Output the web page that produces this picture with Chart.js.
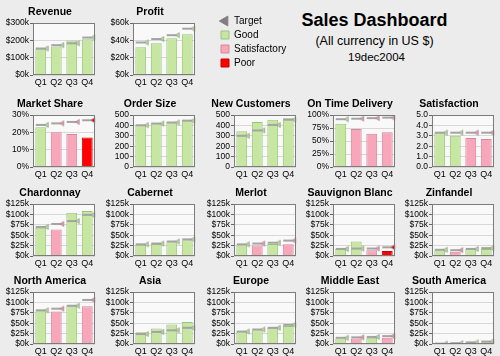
<!DOCTYPE html>
<html><head><meta charset="utf-8">
<script src="https://cdn.jsdelivr.net/npm/chart.js@4.4.1/dist/chart.umd.min.js"></script>
<style>
html,body{margin:0;padding:0;background:#ececec;}
#wrap{position:relative;width:500px;height:356px;overflow:hidden;background:#ececec;font-family:"Liberation Sans",Arial,sans-serif;}
#wrap canvas{position:absolute;}
.t{position:absolute;text-align:center;color:#000;white-space:nowrap;}
</style></head><body><div id="wrap">
<div class="t" style="left:284px;width:181px;top:10px;font-size:18px;line-height:20px;font-weight:bold;">Sales Dashboard</div>
<div class="t" style="left:284px;width:181px;top:34px;font-size:12.5px;line-height:14px;">(All currency in US $)</div>
<div class="t" style="left:286px;width:181px;top:50px;font-size:11.5px;line-height:14px;">19dec2004</div>
</div>
<script>
// ---------- data ----------
const quarters = ['Q1', 'Q2', 'Q3', 'Q4'];

const usdTicks300 = ['$0k', '$100k', '$200k', '$300k'];
const usdTicks60 = ['$0k', '$20k', '$40k', '$60k'];
const pctTicks30 = ['0%', '10%', '20%', '30%'];
const countTicks500 = ['0', '100', '200', '300', '400', '500'];
const pctTicks100 = ['0%', '25%', '50%', '75%', '100%'];
const scoreTicks5 = ['0.0', '1.0', '2.0', '3.0', '4.0', '5.0'];
const usdTicks125 = ['$0k', '$25k', '$50k', '$75k', '$100k', '$125k'];

const revenueActual = [152, 165, 199, 206];
const revenueTarget = [153, 172, 183, 216];
const revenueStatus = ['G', 'G', 'G', 'G'];

const profitActual = [32, 36.5, 42.5, 47];
const profitTarget = [37.5, 41.5, 46, 53.5];
const profitStatus = ['G', 'G', 'G', 'G'];

const shareActual = [23, 20, 19, 17];
const shareTarget = [24.3, 25.2, 26, 27];
const shareStatus = ['G', 'S', 'S', 'P'];

const orderActual = [405, 420, 433, 452];
const orderTarget = [402, 418, 428, 446];
const orderStatus = ['G', 'G', 'G', 'G'];

const customersActual = [343, 432, 455, 468];
const customersTarget = [300, 352, 405, 455];
const customersStatus = ['G', 'G', 'G', 'G'];

const deliveryActual = [83, 73, 64, 67];
const deliveryTarget = [92, 93, 94, 95];
const deliveryStatus = ['G', 'S', 'S', 'S'];

const satisfactionActual = [3.25, 3.0, 2.8, 2.7];
const satisfactionTarget = [3.3, 3.3, 3.3, 3.3];
const satisfactionStatus = ['G', 'G', 'S', 'S'];

const chardonnayActual = [68, 64, 104, 108];
const chardonnayTarget = [70, 77, 84, 99];
const chardonnayStatus = ['G', 'S', 'G', 'G'];

const cabernetActual = [27, 29, 33, 38];
const cabernetTarget = [28, 30, 35, 40];
const cabernetStatus = ['G', 'G', 'G', 'G'];

const merlotActual = [25, 25, 29, 28];
const merlotTarget = [28, 30, 32, 37];
const merlotStatus = ['G', 'S', 'G', 'S'];

const sauvignonActual = [17, 35, 14, 12];
const sauvignonTarget = [17, 18, 18, 21];
const sauvignonStatus = ['G', 'G', 'S', 'P'];

const zinfandelActual = [13, 10, 16, 17];
const zinfandelTarget = [15, 14, 17, 19];
const zinfandelStatus = ['G', 'S', 'G', 'G'];

const northAmericaActual = [79, 78, 92, 91];
const northAmericaTarget = [81, 85, 92, 106];
const northAmericaStatus = ['G', 'S', 'G', 'S'];

const asiaActual = [28, 37, 47, 53];
const asiaTarget = [24, 29, 33, 39];
const asiaStatus = ['G', 'G', 'G', 'G'];

const europeActual = [30, 33, 39, 43];
const europeTarget = [30, 35, 39, 46];
const europeStatus = ['G', 'G', 'G', 'G'];

const middleEastActual = [13, 13, 15, 15];
const middleEastTarget = [15, 16, 17, 19];
const middleEastStatus = ['G', 'S', 'G', 'S'];

const southAmericaActual = [2, 2, 3, 4];
const southAmericaTarget = [1, 2, 4, 6];
const southAmericaStatus = ['G', 'G', 'G', 'G'];

const legendLabels = ['Target', 'Good', 'Satisfactory', 'Poor'];

// ---------- styles / layout ----------
const FF = '"Liberation Sans", Arial, sans-serif';
const fillColor = { G: '#c6e6a2', S: '#f7a7b9', P: '#ff0000' };
const edgeColor = { G: '#98c47a', S: '#d9869a', P: '#c80000' };
const markColor = { G: '#b4d894', S: '#ee8ea6', P: '#ee0000' };
const colLeft = [0, 100, 201, 300, 399];
const rowTop = [0, 92, 181, 269];

function makeMarker(color) {
  const c = document.createElement('canvas');
  c.width = 22; c.height = 8;
  const x = c.getContext('2d');
  x.fillStyle = '#a4a4a4';
  x.fillRect(6, 3, 10, 2);
  x.beginPath();
  x.moveTo(14.5, 4); x.lineTo(18.5, 1.5); x.lineTo(18.5, 6.5); x.closePath();
  x.fillStyle = color; x.fill();
  x.strokeStyle = '#8a8a8a'; x.lineWidth = 0.6; x.stroke();
  return c;
}
const markers = { G: makeMarker(markColor.G), S: makeMarker(markColor.S), P: makeMarker(markColor.P) };

const frame = {
  id: 'frame',
  beforeDraw(c) {
    const a = c.chartArea, x = c.ctx;
    x.save(); x.fillStyle = '#f9f9f9';
    x.fillRect(a.left, a.top, a.right - a.left, a.bottom - a.top); x.restore();
  },
  afterDraw(c) {
    const a = c.chartArea, x = c.ctx;
    x.save(); x.strokeStyle = '#7c7c7c'; x.lineWidth = 1;
    x.strokeRect(Math.round(a.left) + 0.5, Math.round(a.top) + 0.5,
      Math.round(a.right - a.left) - 1, Math.round(a.bottom - a.top) - 1);
    x.restore();
  }
};

const panels = [
  { title: 'Revenue', actual: revenueActual, target: revenueTarget, status: revenueStatus, max: 300, step: 100, ticks: usdTicks300, col: 0, row: 0 },
  { title: 'Profit', actual: profitActual, target: profitTarget, status: profitStatus, max: 60, step: 20, ticks: usdTicks60, col: 1, row: 0 },
  { title: 'Market Share', actual: shareActual, target: shareTarget, status: shareStatus, max: 30, step: 10, ticks: pctTicks30, col: 0, row: 1 },
  { title: 'Order Size', actual: orderActual, target: orderTarget, status: orderStatus, max: 500, step: 100, ticks: countTicks500, col: 1, row: 1 },
  { title: 'New Customers', actual: customersActual, target: customersTarget, status: customersStatus, max: 500, step: 100, ticks: countTicks500, col: 2, row: 1 },
  { title: 'On Time Delivery', actual: deliveryActual, target: deliveryTarget, status: deliveryStatus, max: 100, step: 25, ticks: pctTicks100, col: 3, row: 1 },
  { title: 'Satisfaction', actual: satisfactionActual, target: satisfactionTarget, status: satisfactionStatus, max: 5, step: 1, ticks: scoreTicks5, col: 4, row: 1 },
  { title: 'Chardonnay', actual: chardonnayActual, target: chardonnayTarget, status: chardonnayStatus, max: 125, step: 25, ticks: usdTicks125, col: 0, row: 2 },
  { title: 'Cabernet', actual: cabernetActual, target: cabernetTarget, status: cabernetStatus, max: 125, step: 25, ticks: usdTicks125, col: 1, row: 2 },
  { title: 'Merlot', actual: merlotActual, target: merlotTarget, status: merlotStatus, max: 125, step: 25, ticks: usdTicks125, col: 2, row: 2 },
  { title: 'Sauvignon Blanc', actual: sauvignonActual, target: sauvignonTarget, status: sauvignonStatus, max: 125, step: 25, ticks: usdTicks125, col: 3, row: 2 },
  { title: 'Zinfandel', actual: zinfandelActual, target: zinfandelTarget, status: zinfandelStatus, max: 125, step: 25, ticks: usdTicks125, col: 4, row: 2 },
  { title: 'North America', actual: northAmericaActual, target: northAmericaTarget, status: northAmericaStatus, max: 125, step: 25, ticks: usdTicks125, col: 0, row: 3 },
  { title: 'Asia', actual: asiaActual, target: asiaTarget, status: asiaStatus, max: 125, step: 25, ticks: usdTicks125, col: 1, row: 3 },
  { title: 'Europe', actual: europeActual, target: europeTarget, status: europeStatus, max: 125, step: 25, ticks: usdTicks125, col: 2, row: 3 },
  { title: 'Middle East', actual: middleEastActual, target: middleEastTarget, status: middleEastStatus, max: 125, step: 25, ticks: usdTicks125, col: 3, row: 3 },
  { title: 'South America', actual: southAmericaActual, target: southAmericaTarget, status: southAmericaStatus, max: 125, step: 25, ticks: usdTicks125, col: 4, row: 3 }
];

const wrap = document.getElementById('wrap');

panels.forEach(p => {
  const cv = document.createElement('canvas');
  cv.width = 100; cv.height = 88;
  cv.style.left = colLeft[p.col] + 'px';
  cv.style.top = rowTop[p.row] + 'px';
  cv.style.width = '100px'; cv.style.height = '88px';
  wrap.appendChild(cv);
  new Chart(cv, {
    type: 'bar',
    data: {
      labels: quarters,
      datasets: [
        { type: 'line', data: p.target, showLine: false, borderWidth: 0, pointStyle: p.status.map(s => markers[s]),
          pointRadius: 4, order: 0 },
        { type: 'bar', data: p.actual, backgroundColor: p.status.map(s => fillColor[s]),
          borderColor: p.status.map(s => edgeColor[s]), borderWidth: 1,
          categoryPercentage: 1, barPercentage: 0.7, order: 1 }
      ]
    },
    options: {
      responsive: false, animation: false, events: [],
      layout: { padding: { top: 5.4, left: 5, right: 5, bottom: 0 } },
      plugins: {
        legend: { display: false }, tooltip: { enabled: false },
        title: { display: true, text: p.title, color: '#000',
          font: { size: 10.5, weight: 'bold', family: FF }, padding: { top: 0, bottom: 5 } }
      },
      scales: {
        x: {
          grid: { display: false, drawTicks: false }, border: { display: false },
          ticks: { font: { size: 9, family: FF }, color: '#000', padding: 2, maxRotation: 0, autoSkip: false },
          afterFit: s => { s.height = 13; }
        },
        y: {
          min: 0, max: p.max,
          ticks: { stepSize: p.step, autoSkip: false, font: { size: 8.5, family: FF }, color: '#000', padding: 1,
            callback: (v, i) => p.ticks[i] },
          grid: { color: '#d8d8d8', tickColor: '#666', tickLength: 3 },
          border: { display: false },
          afterFit: s => { s.width = 28; }
        }
      }
    },
    plugins: [frame]
  });
});

// legend
const lg = document.createElement('canvas');
lg.width = 120; lg.height = 64;
lg.style.left = '217px'; lg.style.top = '12px';
lg.style.width = '120px'; lg.style.height = '64px';
wrap.appendChild(lg);
const legendStyles = [
  { pointStyle: 'triangle', rotation: -90, fillStyle: '#7f7f7f', strokeStyle: '#7f7f7f' },
  { pointStyle: 'rect', rotation: 0, fillStyle: fillColor.G, strokeStyle: edgeColor.G },
  { pointStyle: 'rect', rotation: 0, fillStyle: fillColor.S, strokeStyle: edgeColor.S },
  { pointStyle: 'rect', rotation: 0, fillStyle: fillColor.P, strokeStyle: edgeColor.P }
];
new Chart(lg, {
  type: 'bar',
  data: { labels: [], datasets: legendLabels.map((l, i) => ({ label: l, data: [], backgroundColor: legendStyles[i].fillStyle })) },
  options: {
    responsive: false, animation: false, events: [],
    layout: { padding: 0 },
    scales: { x: { display: false }, y: { display: false } },
    plugins: {
      tooltip: { enabled: false },
      legend: {
        position: 'left', align: 'start', maxWidth: 110,
        labels: {
          usePointStyle: true, boxWidth: 8, boxHeight: 8, padding: 4, color: '#000',
          font: { size: 10, family: FF },
          generateLabels: () => legendLabels.map((t, i) => ({
            text: t, pointStyle: legendStyles[i].pointStyle, rotation: legendStyles[i].rotation,
            fillStyle: legendStyles[i].fillStyle, strokeStyle: legendStyles[i].strokeStyle,
            lineWidth: 1, hidden: false, datasetIndex: i, fontColor: '#000'
          }))
        }
      }
    }
  }
});
</script>
</body></html>
